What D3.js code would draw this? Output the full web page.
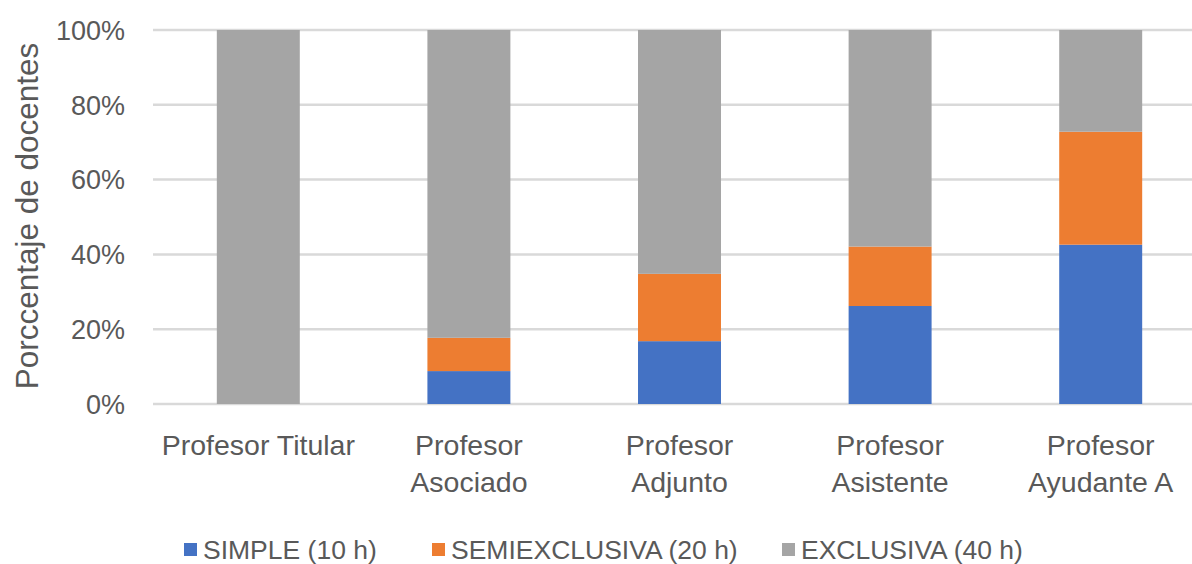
<!DOCTYPE html>
<html>
<head>
<meta charset="utf-8">
<script src="https://cdn.jsdelivr.net/npm/d3@7"></script>
<style>
  body { margin: 0; background: #fff; }
  svg text { font-family: "Liberation Sans", Arial, sans-serif; fill: #595959; }
</style>
</head>
<body>
<div id="chart"></div>
<script>
// category labels (split in lines like the original)
var categories = ["Profesor Titular", "Profesor Asociado", "Profesor Adjunto", "Profesor Asistente", "Profesor Ayudante A"];
var catLines = [["Profesor Titular"], ["Profesor", "Asociado"], ["Profesor", "Adjunto"], ["Profesor", "Asistente"], ["Profesor", "Ayudante A"]];
var seriesNames = ["SIMPLE (10 h)", "SEMIEXCLUSIVA (20 h)", "EXCLUSIVA (40 h)"];
var simple = [0, 8.8, 16.8, 26.2, 42.6];
var semiexclusiva = [0, 8.9, 18.0, 15.9, 30.2];
var exclusiva = [100, 82.3, 65.2, 57.9, 27.2];
var yTicks = [0, 20, 40, 60, 80, 100];
var colors = ["#4472C4", "#ED7D31", "#A5A5A5"];

var svgWidth = 1192, svgHeight = 564;
var margin = { top: 30, left: 153, bottom: 160 };
var plotRight = 1206; // plot area goes past the right edge in the original

var svg = d3.select("#chart").append("svg")
  .attr("width", svgWidth)
  .attr("height", svgHeight);

// build rows for the stack
var rows = categories.map(function(c, i) {
  return { cat: c, s0: simple[i], s1: semiexclusiva[i], s2: exclusiva[i] };
});
var stack = d3.stack().keys(["s0", "s1", "s2"]);
var layers = stack(rows);

var x = d3.scaleBand()
  .domain(categories)
  .range([margin.left, plotRight])
  .paddingInner(0.606)
  .paddingOuter(0.303);

var y = d3.scaleLinear()
  .domain([0, 100])
  .range([404, margin.top]);

// gridlines
svg.append("g")
  .selectAll("line")
  .data(yTicks)
  .enter()
  .append("line")
  .attr("x1", margin.left)
  .attr("x2", plotRight)
  .attr("y1", function(d) { return y(d); })
  .attr("y2", function(d) { return y(d); })
  .attr("stroke", "#D9D9D9")
  .attr("stroke-width", 2.5);

// y tick labels
svg.append("g")
  .selectAll("text")
  .data(yTicks)
  .enter()
  .append("text")
  .attr("x", 125)
  .attr("y", function(d) { return y(d); })
  .attr("dy", "0.36em")
  .attr("text-anchor", "end")
  .style("font-size", "27px")
  .text(function(d) { return d + "%"; });

// bars
svg.append("g")
  .selectAll("g")
  .data(layers)
  .enter()
  .append("g")
  .attr("fill", function(d, i) { return colors[i]; })
  .selectAll("rect")
  .data(function(d) { return d; })
  .enter()
  .append("rect")
  .attr("x", function(d) { return x(d.data.cat); })
  .attr("y", function(d) { return y(d[1]); })
  .attr("width", x.bandwidth())
  .attr("height", function(d) { return y(d[0]) - y(d[1]); });

// category labels
var catG = svg.append("g")
  .selectAll("text")
  .data(categories)
  .enter()
  .append("text")
  .attr("text-anchor", "middle")
  .style("font-size", "28.5px")
  .attr("x", function(d) { return x(d) + x.bandwidth() / 2; })
  .attr("y", 455);
catG.selectAll("tspan")
  .data(function(d, i) { return catLines[i]; })
  .enter()
  .append("tspan")
  .attr("x", function() { return d3.select(this.parentNode).attr("x"); })
  .attr("dy", function(d, i) { return i === 0 ? 0 : 37; })
  .text(function(d) { return d; });

// y axis title
svg.append("text")
  .attr("transform", "translate(38,216) rotate(-90)")
  .attr("text-anchor", "middle")
  .style("font-size", "31.5px")
  .text("Porccentaje de docentes");

// legend
var legendX = [184, 432, 782];
var legend = svg.append("g")
  .selectAll("g")
  .data(seriesNames)
  .enter()
  .append("g")
  .attr("transform", function(d, i) { return "translate(" + legendX[i] + ",543)"; });
legend.append("rect")
  .attr("width", 13)
  .attr("height", 13)
  .attr("fill", function(d, i) { return colors[i]; });
legend.append("text")
  .attr("x", 19)
  .attr("y", 16)
  .style("font-size", "26.5px")
  .text(function(d) { return d; });
</script>
</body>
</html>
